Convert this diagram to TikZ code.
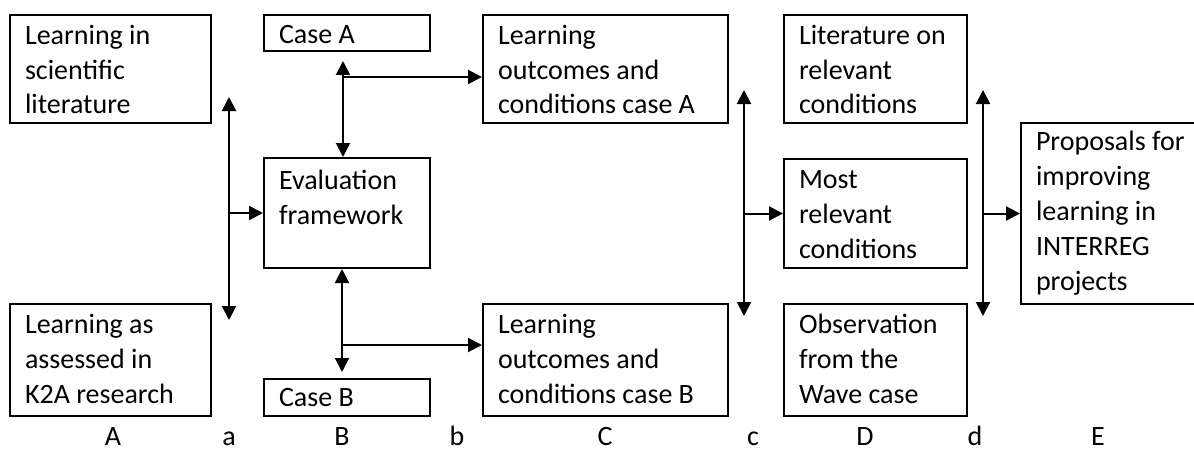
\documentclass[tikz,border=0pt]{standalone}
\usepackage{fontspec}
\setmainfont{Carlito}
\usetikzlibrary{arrows.meta}
\newcommand\boxtxt[4]{\parbox[c][#1pt][t]{#2pt}{\rule{0pt}{#3pt}#4}}
\begin{document}
\begin{tikzpicture}[x=1pt,y=-1pt,
  box/.style={draw, line width=2pt, inner xsep=15pt, inner ysep=0pt, anchor=north west,
    font=\fontsize{28pt}{35pt}\selectfont},
  lbl/.style={anchor=base, inner sep=0pt, font=\fontsize{28pt}{35pt}\selectfont},
  conn/.style={line width=2pt, -{Triangle[length=14pt,width=14pt]}},
  dconn/.style={line width=2pt, {Triangle[length=14pt,width=14pt]}-{Triangle[length=14pt,width=14pt]}}]
\clip (0,0) rectangle (1194,452);
\fill[white] (0,0) rectangle (1194,452);

% column A
\node[box] (a1) at (9,14) {\boxtxt{108}{171}{29}{Learning in\\scientific\\literature}};
\node[box] (a2) at (9,303) {\boxtxt{112}{171}{29}{Learning as\\assessed in\\K2A research}};
% column B
\node[box] (casea) at (263,14) {\boxtxt{36}{136}{29}{Case A}};
\node[box] (eval) at (263,157) {\boxtxt{110}{136}{31}{Evaluation\\framework}};
\node[box] (caseb) at (263,378) {\boxtxt{37}{136}{27}{Case B}};
% column C
\node[box] (ca) at (482,14) {\boxtxt{108}{215}{29}{Learning\\outcomes and\\conditions case A}};
\node[box] (cb) at (482,303) {\boxtxt{112}{215}{29}{Learning\\outcomes and\\conditions case B}};
% column D
\node[box] (d1) at (783,14) {\boxtxt{108}{153}{29}{Literature on\\relevant\\conditions}};
\node[box] (d2) at (783,158) {\boxtxt{109}{153}{29}{Most\\relevant\\conditions}};
\node[box] (d3) at (783,303) {\boxtxt{112}{153}{29}{Observation\\from the\\Wave case}};
% column E
\node[box] (e) at (1020,122) {\boxtxt{181}{155}{27}{Proposals for\\improving\\learning in\\INTERREG\\projects}};

% connector a
\coordinate (aT) at (229,97);
\coordinate (aB) at (229,320);
\draw[dconn] (aT) -- (aB);
\draw[conn] (eval.west -| aT) -- (eval.west);
% Case A -- evaluation
\coordinate (abT) at (343,61);
\coordinate (brA) at (343,77);
\draw[dconn] (abT) -- (abT |- eval.north);
\draw[conn] (brA) -- (brA -| ca.west);
% evaluation -- Case B
\coordinate (bbB) at (342,372);
\coordinate (brB) at (342,345);
\draw[dconn] (bbB |- eval.south) -- (bbB);
\draw[conn] (brB) -- (brB -| cb.west);
% connector c
\coordinate (cT) at (744,90);
\coordinate (cB) at (744,316);
\draw[dconn] (cT) -- (cB);
\draw[conn] (d2.west -| cT) -- (d2.west);
% connector d
\coordinate (dT) at (983,90);
\coordinate (dB) at (983,316);
\draw[dconn] (dT) -- (dB);
\draw[conn] (e.west -| dT) -- (e.west);

% column labels
\node[lbl] (lA) at (113,445) {A};
\node[lbl] (la) at (229,445) {a};
\node[lbl] (lB) at (342,445) {B};
\node[lbl] (lb) at (457,445) {b};
\node[lbl] (lC) at (605,445) {C};
\node[lbl] (lc) at (753,445) {c};
\node[lbl] (lD) at (865,445) {D};
\node[lbl] (ld) at (975,445) {d};
\node[lbl] (lE) at (1098,445) {E};
\end{tikzpicture}
\end{document}
